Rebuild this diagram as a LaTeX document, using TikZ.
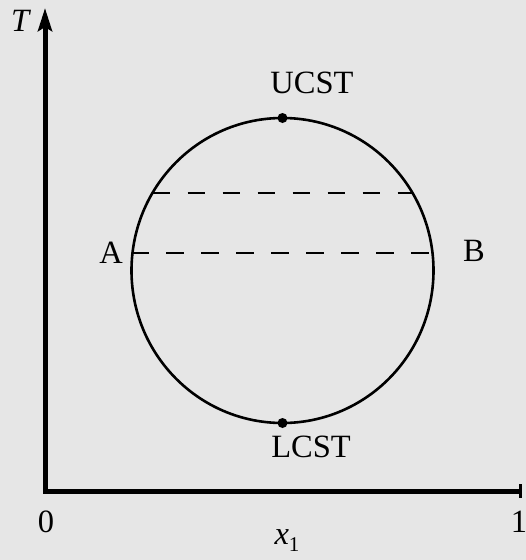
\documentclass[tikz,border=0pt]{standalone}
\usepackage{fontspec}
\setmainfont{Liberation Serif}
\usetikzlibrary{arrows.meta}
\definecolor{bggray}{RGB}{230,230,230}
\tikzset{
  lbl/.style={inner sep=0pt, font=\fontsize{32.5}{38}\selectfont},
  axisline/.style={line width=5pt, line join=miter},
  curve/.style={line width=2.6pt},
  dashline/.style={line width=2.6pt, dash pattern=on 17.5pt off 17.5pt},
  dotmark/.style={circle, fill=black, inner sep=0pt, minimum size=10pt}
}
\begin{document}
\begin{tikzpicture}[x=1pt,y=-1pt]
\fill[bggray] (0,0) rectangle (526,560);
\useasboundingbox (0,0) rectangle (526,560);
% axes
\coordinate (O) at (45,491);
\coordinate (Ytop) at (45,8);
\coordinate (Xend) at (522,491);
\coordinate (Tick1) at (520.5,484);
\coordinate (Tick2) at (520.5,498);
\draw[axisline, {Stealth[length=23pt,width=14pt,inset=4pt]}-] (Ytop) -- (O) -- (Xend);
\draw[line width=3pt] (Tick1) -- (Tick2);
% curve
\coordinate (C) at (282.5,270.5);
\draw[curve] (C) ellipse [x radius=151, y radius=152.5];
\node[dotmark] (top) at (282.5,118) {};
\node[dotmark] (bot) at (282.5,423) {};
% dashed tie lines
\coordinate (A1) at (132.5,253);
\coordinate (B1) at (432.5,253);
\coordinate (A2) at (152.5,193);
\coordinate (B2) at (412.5,193);
\draw[dashline, dash phase=1.5pt] (A1) -- (B1);
\draw[dashline] (A2) -- (B2);
% labels
\node[lbl] (T) at (21,21) {\textit{T}};
\node[lbl] (A) at (111,253) {A};
\node[lbl] (B) at (474,251) {B};
\node[lbl] (ucst) at (312,83) {UCST};
\node[lbl] (lcst) at (311,447) {LCST};
\node[lbl] (zero) at (46,522) {0};
\node[lbl] (one) at (519,522) {1};
\node[lbl] (x1) at (287,541) {\textit{x}\raisebox{-7pt}{\fontsize{21}{24}\selectfont 1}};
\end{tikzpicture}
\end{document}
